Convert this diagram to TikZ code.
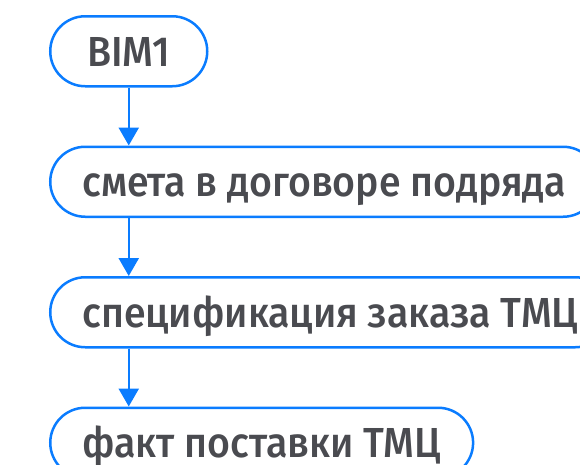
\documentclass[tikz,border=0pt]{standalone}
\usepackage{fontspec}
\setmainfont{Fira Sans}[BoldFont={Fira Sans Medium}, FakeStretch=0.935]
\usetikzlibrary{positioning,arrows.meta}
\definecolor{bimblue}{HTML}{0A7CFF}
\definecolor{ink}{HTML}{4A4B50}

\begin{document}
\begin{tikzpicture}[font=\fontsize{42}{50}\selectfont\bfseries, node distance=58pt,
  stage/.style={draw=bimblue, line width=2.5pt, rounded corners=35pt, minimum height=70pt, inner xsep=32pt, text height=30pt, text depth=0pt, text=ink},
  arr/.style={-{Triangle[width=20pt, length=18pt]}, draw=bimblue, line width=2.5pt}]
\useasboundingbox (0,0) rectangle (580pt,-464pt);
\clip (0,0) rectangle (580pt,-464pt);
\node[stage, minimum width=157pt, anchor=north west] (bim) at (49pt,-15pt) {BIM1};
\node[stage, below=of bim.south west, anchor=north west] (smeta) {смета в договоре подряда};
\node[stage, below=of smeta.south west, anchor=north west] (spec) {спецификация заказа ТМЦ};
\node[stage, below=of spec.south west, anchor=north west] (fact) {факт поставки ТМЦ};
\draw[arr] (bim) -- (bim |- smeta.north);
\draw[arr] (bim |- smeta.south) -- (bim |- spec.north);
\draw[arr] (bim |- spec.south) -- (bim |- fact.north);
\end{tikzpicture}
\end{document}
